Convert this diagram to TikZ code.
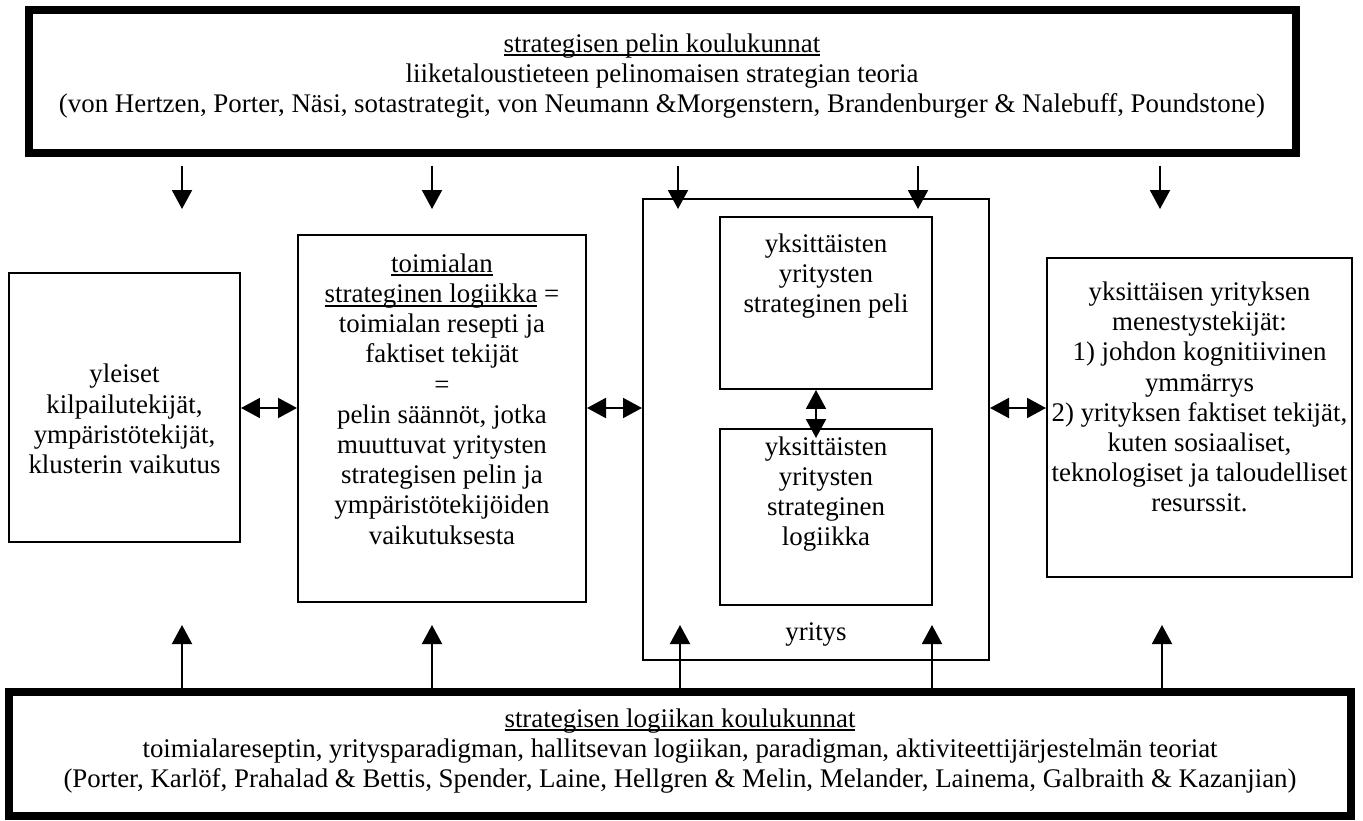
\documentclass[tikz,border=0pt]{standalone}
\usepackage{fontspec}
\setmainfont{Liberation Serif}
\usetikzlibrary{arrows.meta,fit}
\newsavebox\ulbox
\newcommand\ulline[1]{\sbox\ulbox{#1}\rlap{\vrule width\wd\ulbox height -1.3pt depth 2.4pt}\usebox\ulbox}
\tikzset{
  box/.style={draw, line width=0.04cm, inner sep=0pt, rectangle},
  thickbox/.style={draw, line width=0.16cm, inner sep=0pt, rectangle},
  txt/.style={align=center, inner sep=0pt, font=\fontsize{15.3}{17.2}\selectfont},
  arr/.style={line width=0.04cm, -{Triangle[length=0.38cm, width=0.4cm]}},
  dbl/.style={line width=0.04cm, {Triangle[length=0.38cm, width=0.4cm]}-{Triangle[length=0.38cm, width=0.4cm]}}
}
\begin{document}
\begin{tikzpicture}[x=0.02cm, y=-0.02cm]
\useasboundingbox (0,0) rectangle (1363,821);
\fill[white] (0,0) rectangle (1363,821);

% schools of strategic games (top) and strategic logic (bottom)
\node[thickbox, fit={(29,10) (1296,153)}] (T) {};
\node[txt] (Tt) at (662,76) {\ulline{strategisen pelin koulukunnat}\\
  liiketaloustieteen pelinomaisen strategian teoria\\
  (von Hertzen, Porter, Näsi, sotastrategit, von Neumann \&Morgenstern, Brandenburger \& Nalebuff, Poundstone)};
\node[thickbox, fit={(9,692) (1351,816)}] (B) {};
\node[txt] (Bt) at (680,751) {\ulline{strategisen logiikan koulukunnat}\\
  toimialareseptin, yritysparadigman, hallitsevan logiikan, paradigman, aktiviteettijärjestelmän teoriat\\
  (Porter, Karlöf, Prahalad \& Bettis, Spender, Laine, Hellgren \& Melin, Melander, Lainema, Galbraith \& Kazanjian)};

% general factors
\node[box, fit={(9,273) (240,542)}] (L) {};
\node[txt] (Lt) at (124.5,419) {yleiset\\ kilpailutekijät,\\ ympäristötekijät,\\ klusterin vaikutus};

% industry logic
\node[box, fit={(298,235) (586,602)}] (M) {};
\node[txt] (Mt) at (442,399) {\ulline{toimialan}\\ \ulline{strateginen logiikka} =\\ toimialan resepti ja\\ faktiset tekijät\\ =\\
  pelin säännöt, jotka\\ muuttuvat yritysten\\ strategisen pelin ja\\ ympäristötekijöiden\\ vaikutuksesta};

% the firm
\node[box, fit={(643,199) (989,660)}] (Y) {};
\node[txt] (Yt) at (816,634) {yritys};
\node[box, fit={(720,217) (932,389)}] (IT) {};
\node[txt, anchor=north] (ITt) at (826,233) {yksittäisten\\ yritysten\\ strateginen peli};
\node[box, fit={(720,429) (932,605)}] (IB) {};
\node[txt, anchor=north] (IBt) at (826,436) {yksittäisten\\ yritysten\\ strateginen\\ logiikka};

% success factors
\node[box, fit={(1047,258) (1352,577)}] (R) {};
\node[txt] (Rt) at (1199.5,397) {yksittäisen yrityksen\\ menestystekijät:\\ 1) johdon kognitiivinen\\ ymmärrys\\
  2) yrityksen faktiset tekijät,\\ kuten sosiaaliset,\\ teknologiset ja taloudelliset\\ resurssit.};

% arrow levels
\coordinate (ya) at (0,408);
\coordinate (dn) at (0,209);
\coordinate (up) at (0,625);
\coordinate (vlow) at (816,438);

% downward arrows from the top box
\foreach \x [count=\i] in {182,432,678,918,1160}{
  \coordinate (d\i) at (\x,0);
  \draw[arr, shorten <=0.18cm] (T.south -| d\i) -- (dn -| d\i);
}
% upward arrows from the bottom box
\foreach \x [count=\i] in {182,432,680,932,1162}{
  \coordinate (u\i) at (\x,0);
  \draw[arr] (B.north -| u\i) -- (up -| u\i);
}

% two-way links
\draw[dbl] (L.east |- ya) -- (M.west |- ya);
\draw[dbl] (M.east |- ya) -- (Y.west |- ya);
\draw[dbl] (Y.east |- ya) -- (R.west |- ya);
\draw[dbl] (IT.south -| vlow) -- (vlow);
\end{tikzpicture}
\end{document}
